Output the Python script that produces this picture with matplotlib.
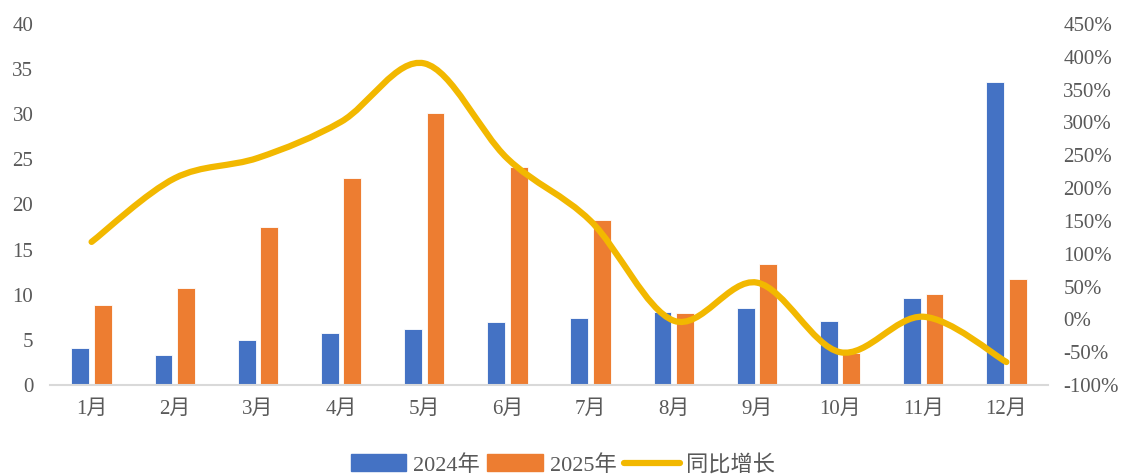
# -*- coding: utf-8 -*-

import matplotlib
matplotlib.use("Agg")
import matplotlib.pyplot as plt
import matplotlib.patches as mpatches
from matplotlib.lines import Line2D
from matplotlib.path import Path
import numpy as np

months = ["1月", "2月", "3月", "4月", "5月", "6月", "7月", "8月", "9月", "10月", "11月", "12月"]
values_2024 = [4.1, 3.3, 5.0, 5.8, 6.2, 7.0, 7.4, 8.1, 8.5, 7.1, 9.6, 33.6]
values_2025 = [8.9, 10.7, 17.5, 22.9, 30.1, 24.2, 18.3, 8.0, 13.4, 3.5, 10.1, 11.7]
growth_pct = [118, 215, 246, 301, 390, 245, 150, -2, 56, -50, 4, -65]
left_ticks = [0, 5, 10, 15, 20, 25, 30, 35, 40]
right_ticks = [-100, -50, 0, 50, 100, 150, 200, 250, 300, 350, 400, 450]
series_labels = ["2024年", "2025年", "同比增长"]

BLUE = "#4472C4"
ORANGE = "#ED7D31"
GOLD = "#F2B800"
TEXT = "#595959"
FONT = ["Liberation Serif", "Noto Sans CJK SC"]


def smooth_path(xs, ys):
    # Catmull-Rom style smoothing, like the office "smoothed line"
    pts = np.column_stack([xs, ys]).astype(float)
    verts = [pts[0]]
    codes = [Path.MOVETO]
    n = len(pts)
    for i in range(n - 1):
        p0 = pts[i - 1] if i > 0 else pts[i]
        p1 = pts[i]
        p2 = pts[i + 1]
        p3 = pts[i + 2] if i + 2 < n else pts[i + 1]
        c1 = p1 + (p2 - p0) / 6.0
        c2 = p2 - (p3 - p1) / 6.0
        verts += [c1, c2, p2]
        codes += [Path.CURVE4] * 3
    return Path(verts, codes)


def main():
    plt.rcParams["font.family"] = FONT
    plt.rcParams["font.size"] = 15

    fig = plt.figure(figsize=(11.26, 4.76), dpi=100)
    ax = fig.add_axes([0.0444, 0.1912, 0.8863, 0.7584])
    ax2 = ax.twinx()

    x = np.arange(len(months))
    w = 0.215
    off = 0.135
    ax.bar(x - off, values_2024, width=w, color=BLUE, edgecolor="white", linewidth=0.6)
    ax.bar(x + off, values_2025, width=w, color=ORANGE, edgecolor="white", linewidth=0.6)

    path = smooth_path(x, growth_pct)
    ax2.add_patch(mpatches.PathPatch(path, facecolor="none", edgecolor=GOLD, linewidth=4.5, capstyle="round", joinstyle="round"))

    ax.set_xlim(-0.5, len(months) - 0.5)
    ax.set_ylim(0, 40)
    ax2.set_ylim(-100, 450)

    ax.set_xticks(x)
    ax.set_xticklabels(months)
    ax.set_yticks(left_ticks)
    ax2.set_yticks(right_ticks)
    ax2.set_yticklabels([f"{t}%" for t in right_ticks])

    ax.tick_params(axis="x", length=0, pad=11, colors=TEXT)
    ax.tick_params(axis="y", length=0, pad=12, colors=TEXT)
    ax2.tick_params(axis="y", length=0, pad=11, colors=TEXT)

    for a in (ax, ax2):
        for s in ("top", "left", "right", "bottom"):
            a.spines[s].set_visible(False)
    ax.spines["bottom"].set_visible(True)
    ax.spines["bottom"].set_color("#D9D9D9")
    ax.spines["bottom"].set_linewidth(1.5)

    handles = [
        mpatches.Patch(color=BLUE),
        mpatches.Patch(color=ORANGE),
        Line2D([], [], color=GOLD, linewidth=4.5, solid_capstyle="round"),
    ]
    leg = fig.legend(handles, series_labels, loc="lower center", bbox_to_anchor=(0.5, -0.032), ncol=3, frameon=False,
                     fontsize=16, handlelength=2.5, handleheight=0.8, handletextpad=0.3, columnspacing=0.35,
                     borderpad=0.2)
    for t in leg.get_texts():
        t.set_color(TEXT)

    fig.savefig("out.png", dpi=100)


if __name__ == "__main__":
    main()
